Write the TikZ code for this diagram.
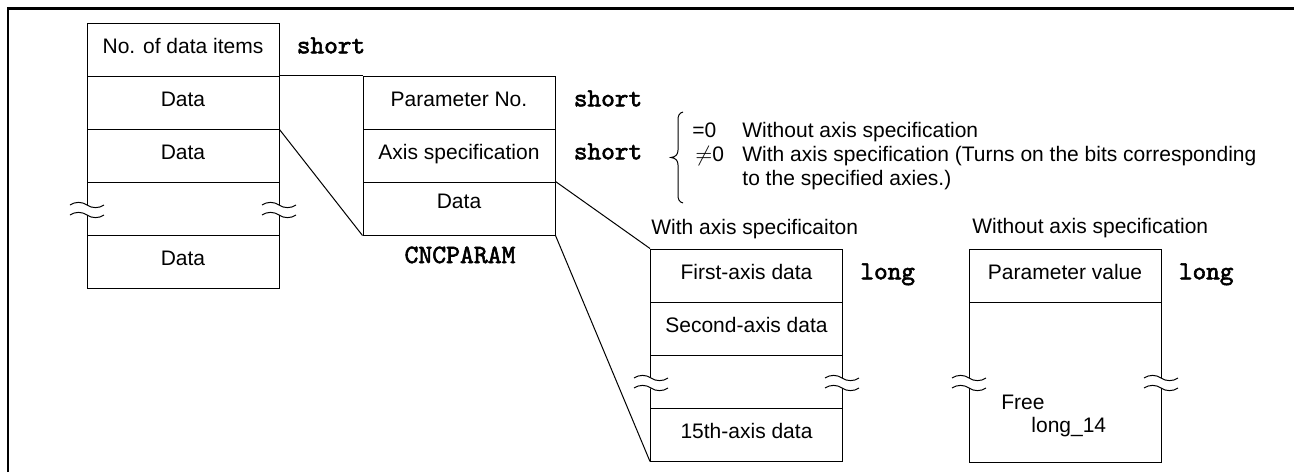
\documentclass[tikz,border=0pt]{standalone}
\usepackage{fontspec}
\setmainfont{Liberation Sans}
\newfontfamily\courb{lmmono10-regular.otf}[FakeBold=2.2]
\newcommand{\brkmark}[2]{%
  \begin{scope}[shift={(#1,#2)}]
    \fill[white] (-17,-5) .. controls (-12,-8.5) and (-5,-8.5) .. (0,-5)
      .. controls (5,-1.5) and (12,-1.5) .. (17,-5) -- (17,5)
      .. controls (12,1.5) and (5,1.5) .. (0,5)
      .. controls (-5,8.5) and (-12,8.5) .. (-17,5) -- cycle;
    \draw[thinline] (-17,-5) .. controls (-12,-8.5) and (-5,-8.5) .. (0,-5)
      .. controls (5,-1.5) and (12,-1.5) .. (17,-5);
    \draw[thinline] (-17,5) .. controls (-12,1.5) and (-5,1.5) .. (0,5)
      .. controls (5,8.5) and (12,8.5) .. (17,5);
  \end{scope}}
\begin{document}
\begin{tikzpicture}[x=0.5pt,y=-0.5pt,
  thinline/.style={line width=0.5pt, draw=black},
  txt/.style={font=\fontsize{10.5}{12}\selectfont},
  cell/.style={draw, thinline, txt, minimum width=96pt, minimum height=26.5pt,
    inner sep=0pt, text height=7.3pt, text depth=3.5pt},
  lbl/.style={txt, anchor=base west, inner sep=0pt},
  mono/.style={anchor=base west, inner sep=0pt,
    font=\fontsize{13}{14}\selectfont\courb},
  link/.style={thinline}]
\useasboundingbox (0,0) rectangle (1294,472);
% frame
\draw[line width=1.35pt] (8,472) -- (8,8.8) -- (1294,8.8);

% left structure
\node[cell] (a1) at (183,49.5) {No. of data items};
\node[cell] (a2) at (183,102.5) {Data};
\node[cell] (a3) at (183,155.5) {Data};
\node[cell] (a4) at (183,208.5) {};
\node[cell] (a5) at (183,261.5) {Data};
\node[mono] (sa1) at ([xshift=8.5pt]a1.base east) {short};

% CNCPARAM
\node[cell] (b1) at (459,102.5) {Parameter No.};
\node[cell] (b2) at (459,155.5) {Axis specification};
\node[cell, text depth=7.5pt] (b3) at (459,208.5) {Data};
\node[mono] (sb1) at ([xshift=9pt]b1.base east) {short};
\node[mono] (sb2) at ([xshift=9pt]b2.base east) {short};
\node[anchor=base, inner sep=0pt, font=\fontsize{13.2}{14}\selectfont\courb] (cnc) at (460,263) {CNCPARAM};

% with axis specification
\node[lbl] (wt) at (651,234) {With axis specificaiton};
\node[cell] (c1) at (746.5,275.5) {First-axis data};
\node[cell] (c2) at (746.5,328.5) {Second-axis data};
\node[cell] (c3) at (746.5,381.5) {};
\node[cell] (c4) at (746.5,434.5) {15th-axis data};
\node[mono] (sc1) at ([xshift=8.5pt]c1.base east) {long};

% without axis specification
\node[lbl] (wot) at (972,233) {Without axis specification};
\node[cell] (d1) at (1065,275.5) {Parameter value};
\node[cell, minimum height=80pt] (d2) at (1065,382) {};
\node[mono] (sd1) at ([xshift=8.5pt]d1.base east) {long};
\node[lbl] (fr) at (1001,409) {Free};
\node[lbl] (fl) at (1031,432) {long\_14};

% brace and explanation
\draw[thinline] (683,112) .. controls (679,113) and (678,116) .. (678,120) -- (678,150)
  .. controls (678,154) and (676,157) .. (671,157.5)
  .. controls (676,158) and (678,161) .. (678,165) -- (678,195)
  .. controls (678,199) and (679,202) .. (683,203);
\node[lbl] (e0) at (692,137) {=0};
\node[lbl] (n0) at (695,161) {$\neq$0};
\node[lbl] (t1) at (742,137) {Without axis specification};
\node[lbl] (t2) at (742,161) {With axis specification (Turns on the bits corresponding};
\node[lbl] (t3) at (742,185) {to the specified axies.)};

% connectors
\draw[link] (a2.north east) -- (b1.north west);
\draw[link] (a2.south east) -- (b3.south west);
\draw[link] (b3.north east) -- (c1.north west);
\draw[link] (b3.south east) -- (c4.south west);

% break marks
\brkmark{87}{210}
\brkmark{279}{210}
\brkmark{651}{383}
\brkmark{842}{383}
\brkmark{969}{383}
\brkmark{1161}{383}
\end{tikzpicture}
\end{document}
